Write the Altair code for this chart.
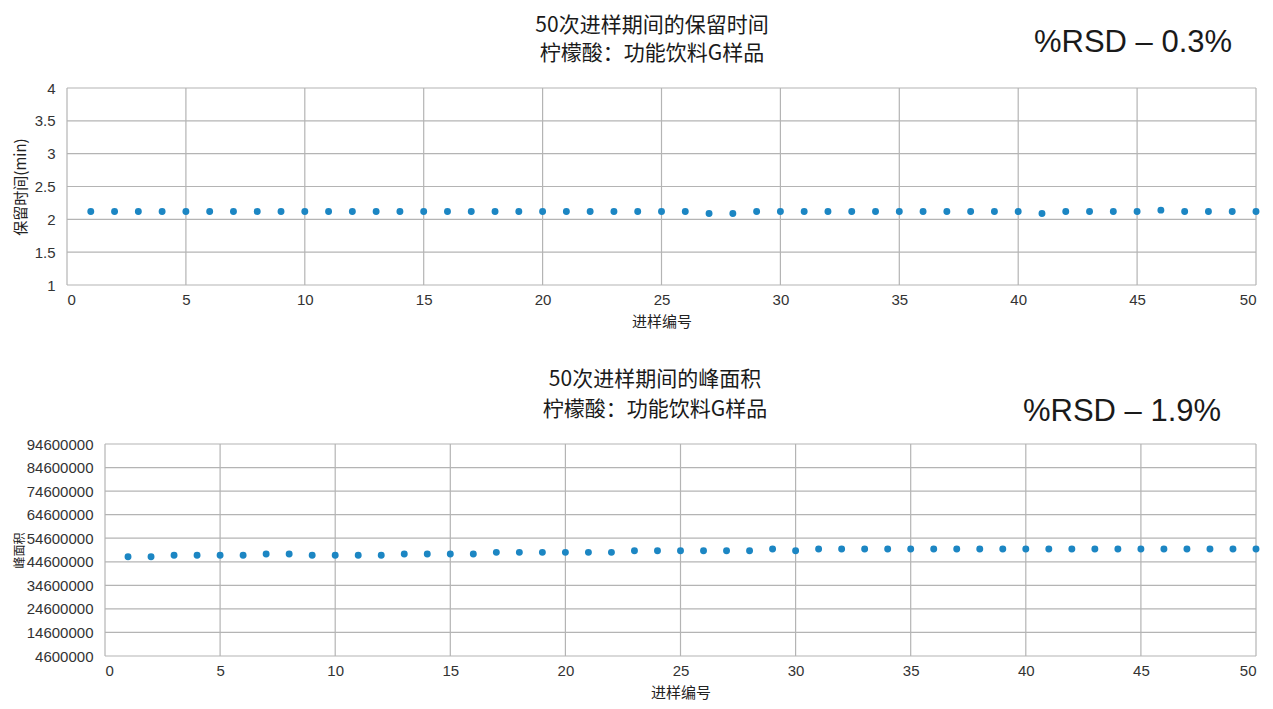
import altair as alt
import pandas as pd

# ---- data ----
runs = list(range(1, 51))
retention_time = [
    2.12, 2.12, 2.12, 2.12, 2.12, 2.12, 2.12, 2.12, 2.12, 2.12,
    2.12, 2.12, 2.12, 2.12, 2.12, 2.12, 2.12, 2.12, 2.12, 2.12,
    2.12, 2.12, 2.12, 2.12, 2.12, 2.12, 2.09, 2.09, 2.12, 2.12,
    2.12, 2.12, 2.12, 2.12, 2.12, 2.12, 2.12, 2.12, 2.12, 2.12,
    2.09, 2.12, 2.12, 2.12, 2.12, 2.14, 2.12, 2.12, 2.12, 2.12,
]
peak_area = [
    46700000, 46700000, 47400000, 47400000, 47400000, 47400000, 47900000, 47900000, 47400000, 47400000,
    47400000, 47400000, 47900000, 47900000, 47900000, 47900000, 48600000, 48600000, 48600000, 48600000,
    48600000, 48600000, 49300000, 49300000, 49300000, 49300000, 49300000, 49300000, 50000000, 49300000,
    50000000, 50000000, 50000000, 50000000, 50000000, 50000000, 50000000, 50000000, 50000000, 50000000,
    50000000, 50000000, 50000000, 50000000, 50000000, 50000000, 50000000, 50000000, 50000000, 50000000,
]
x_ticks = [0, 5, 10, 15, 20, 25, 30, 35, 40, 45, 50]
rt_ticks = [1, 1.5, 2, 2.5, 3, 3.5, 4]
area_ticks = [4600000, 14600000, 24600000, 34600000, 44600000, 54600000,
              64600000, 74600000, 84600000, 94600000]

title_rt = ["50次进样期间的保留时间", "柠檬酸：功能饮料G样品"]
title_area = ["50次进样期间的峰面积", "柠檬酸：功能饮料G样品"]
rsd_rt = "%RSD – 0.3%"
rsd_area = "%RSD – 1.9%"
x_title = "进样编号"
y_title_rt = "保留时间(min)"
y_title_area = "峰面积"

# ---- styling / layout (pixels) ----
DOT = "#1c86c3"
GRID = "#b4b4b4"
CJK = "Noto Sans CJK SC"
LAT = "Liberation Sans"
W, H = 1198, 568            # shared canvas for both panels
TOP_X, TOP_Y = [0, 1189], [197, 0]
BOT_X, BOT_Y = [38, 1189], [568, 356]

df_rt = pd.DataFrame({"run": runs, "value": retention_time})
df_area = pd.DataFrame({"run": runs, "value": peak_area})


def panel(df, xt, yt, x_rng, y_rng, y_fmt, y_title, y_title_size, y_title_pad,
          y_off, x_off, x_title_pad):
    xs = alt.Scale(domain=[xt[0], xt[-1]], range=x_rng, nice=False, zero=False)
    ys = alt.Scale(domain=[yt[0], yt[-1]], range=y_rng, nice=False, zero=False)
    xa = alt.Axis(values=xt, orient="bottom", offset=x_off, title=x_title,
                  labelPadding=7, titlePadding=x_title_pad, titleFontSize=15)
    ya = alt.Axis(values=yt, orient="left", offset=y_off, format=y_fmt, title=y_title,
                  labelPadding=12, titlePadding=y_title_pad, titleFontSize=y_title_size)
    vgrid_df = pd.DataFrame({"tick": xt, "lo": yt[0], "hi": yt[-1]})
    hgrid_df = pd.DataFrame({"tick": yt, "lo": xt[0], "hi": xt[-1]})
    vgrid = alt.Chart(vgrid_df).mark_rule(color=GRID, strokeWidth=1.2).encode(
        x=alt.X("tick:Q", scale=xs, axis=xa),
        y=alt.Y("lo:Q", scale=ys, axis=ya), y2="hi:Q")
    hgrid = alt.Chart(hgrid_df).mark_rule(color=GRID, strokeWidth=1.2).encode(
        y=alt.Y("tick:Q", scale=ys, axis=ya),
        x=alt.X("lo:Q", scale=xs, axis=xa), x2="hi:Q")
    pts = alt.Chart(df).mark_circle(size=48, color=DOT, opacity=1).encode(
        x=alt.X("run:Q", scale=xs, axis=xa),
        y=alt.Y("value:Q", scale=ys, axis=ya))
    return alt.layer(vgrid, hgrid, pts)


def label(text, x, y, font, size):
    return alt.Chart(pd.DataFrame({"t": [text]})).mark_text(
        font=font, fontSize=size, color="#1a1a1a", align="center", baseline="middle"
    ).encode(text="t:N", x=alt.value(x), y=alt.value(y))


top = panel(df_rt, x_ticks, rt_ticks, TOP_X, TOP_Y, "~g", y_title_rt, 15, 6,
            0, TOP_Y[0] - H, 7)
bottom = panel(df_area, x_ticks, area_ticks, BOT_X, BOT_Y, "d", y_title_area, 12, 0,
               -BOT_X[0], 0, 7)

texts = alt.layer(
    label(title_rt[0], 585, -62, CJK, 21),
    label(title_rt[1], 585, -34, CJK, 21),
    label(rsd_rt, 1066, -45, LAT, 31),
    label(title_area[0], 588, 292, CJK, 21),
    label(title_area[1], 588, 322, CJK, 21),
    label(rsd_area, 1055, 324, LAT, 31),
)

chart = alt.layer(top, bottom, texts).resolve_scale(
    x="independent", y="independent"
).properties(
    width=W, height=H,
    autosize=alt.AutoSizeParams(type="none"),
    padding={"left": 59, "top": 80, "right": 0, "bottom": 45},
).configure(
    background="white"
).configure_view(
    stroke=None
).configure_axis(
    grid=False, domain=False, ticks=False,
    labelFont=LAT, labelFontSize=15, labelColor="#333",
    titleFont=CJK, titleFontWeight="normal", titleColor="#222",
)

chart.save("out.html", embed_options={"renderer": "svg", "actions": False})
